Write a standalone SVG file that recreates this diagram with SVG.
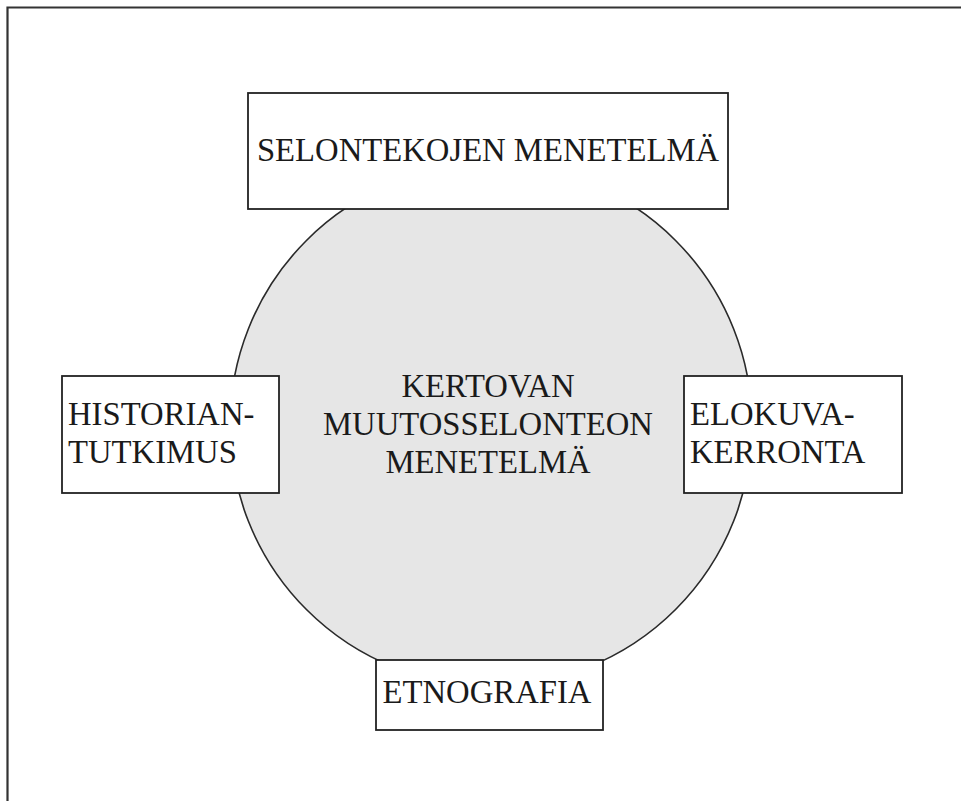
<svg xmlns="http://www.w3.org/2000/svg" width="961" height="801" viewBox="0 0 961 801">
  <style>
    .box { fill: #ffffff; stroke: #222222; stroke-width: 1.8; }
    .core { fill: #e6e6e6; stroke: #2a2a2a; stroke-width: 1.6; }
    .frame { fill: none; stroke: #333333; stroke-width: 2.2; }
    text { font-family: "Liberation Serif", "Times New Roman", serif; font-size: 32.7px; fill: #1a1a1a; }
    .mid { text-anchor: middle; }
  </style>
  <rect width="961" height="801" fill="#ffffff"/>
  <!-- page frame (open to the right and bottom) -->
  <path class="frame" d="M7.5,801 V7.5 H961"/>

  <!-- central method -->
  <g id="core">
    <circle class="core" cx="491" cy="425" r="261"/>
    <text class="mid" x="488" y="397">KERTOVAN</text>
    <text class="mid" x="488" y="435">MUUTOSSELONTEON</text>
    <text class="mid" x="488" y="473">MENETELMÄ</text>
  </g>

  <g id="connectors"></g>

  <g id="selonteot">
    <rect class="box" x="248" y="93" width="480" height="116"/>
    <text class="mid" x="488" y="161">SELONTEKOJEN MENETELMÄ</text>
  </g>

  <g id="historia">
    <rect class="box" x="62" y="376" width="217" height="117"/>
    <text x="68" y="425">HISTORIAN-</text>
    <text x="68" y="463">TUTKIMUS</text>
  </g>

  <g id="elokuva">
    <rect class="box" x="684" y="376" width="218" height="117"/>
    <text x="690" y="425">ELOKUVA-</text>
    <text x="690" y="463">KERRONTA</text>
  </g>

  <g id="etnografia">
    <rect class="box" x="376" y="660" width="227" height="70"/>
    <text class="mid" x="487" y="703">ETNOGRAFIA</text>
  </g>
</svg>
